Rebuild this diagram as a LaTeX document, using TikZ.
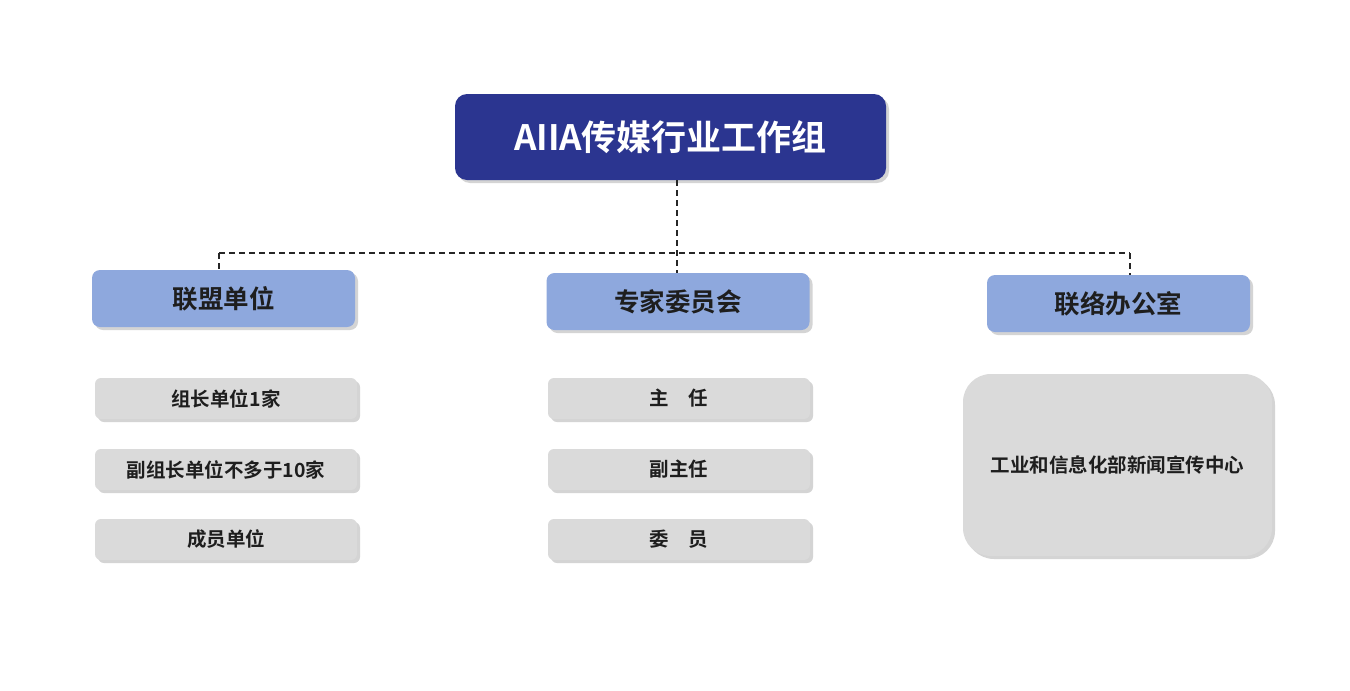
\documentclass[tikz,border=0pt]{standalone}
\usepackage{fontspec}
\newfontfamily\cjk{Noto Sans CJK SC}[BoldFont={Noto Sans CJK SC Bold}]
\usetikzlibrary{shadows}
\definecolor{navy}{HTML}{2B3590}
\definecolor{hdr}{HTML}{8EA8DD}
\definecolor{gbox}{HTML}{DADADA}
\definecolor{txt}{HTML}{1E1E1E}
\tikzset{
  x=1pt, y=-1pt,
  boxshadow/.style={drop shadow={shadow xshift=3pt, shadow yshift=-3pt, opacity=0.28, fill=black!60}},
  topbox/.style={boxshadow, fill=navy, rounded corners=12pt, minimum width=431pt, minimum height=86pt, text=white, font=\cjk\bfseries\fontsize{35}{40}\selectfont},
  hdrbox/.style={boxshadow, fill=hdr, rounded corners=8pt, minimum width=263pt, minimum height=57pt, text=txt, font=\cjk\bfseries\fontsize{25.5}{30}\selectfont},
  itembox/.style={boxshadow, fill=gbox, rounded corners=6pt, minimum width=262pt, minimum height=41pt, text=txt, font=\cjk\bfseries\fontsize{19.5}{24}\selectfont},
  bigbox/.style={boxshadow, fill=gbox, rounded corners=28pt, minimum width=309pt, minimum height=182pt, text=txt, font=\cjk\bfseries\fontsize{19.5}{24}\selectfont},
  conn/.style={line width=1.4pt, draw=black!85, dash pattern=on 6pt off 4pt}
}
\begin{document}
\begin{tikzpicture}
\useasboundingbox (0,0) rectangle (1350,691);
\fill[white] (0,0) rectangle (1350,691);
\node[topbox] (top) at (670.5,137) {AIIA传媒行业工作组};
\node[hdrbox] (h1) at (223.5,298.5) {联盟单位};
\node[hdrbox] (h2) at (678,301.5) {专家委员会};
\node[hdrbox] (h3) at (1118.5,303.5) {联络办公室};
\node[itembox] (a1) at (226,398.5) {组长单位1家};
\node[itembox] (a2) at (226,469.5) {副组长单位不多于10家};
\node[itembox] (a3) at (226,539.5) {成员单位};
\node[itembox] (b1) at (679,398.5) {主\hspace{1em}任};
\node[itembox] (b2) at (679,469.5) {副主任};
\node[itembox] (b3) at (679,539.5) {委\hspace{1em}员};
\node[bigbox] (c1) at (1117.5,465) {工业和信息化部新闻宣传中心};
\coordinate (jL) at (219,253);
\coordinate (jM) at (677,253);
\coordinate (jR) at (1130,253);
\draw[conn] (677,180 |- top.south) -- (jM) -- (677,273 |- h2.north);
\draw[conn] (jL) -- (jR);
\draw[conn] (jL) -- (219,270 |- h1.north);
\draw[conn] (jR) -- (1130,275 |- h3.north);
\end{tikzpicture}
\end{document}
